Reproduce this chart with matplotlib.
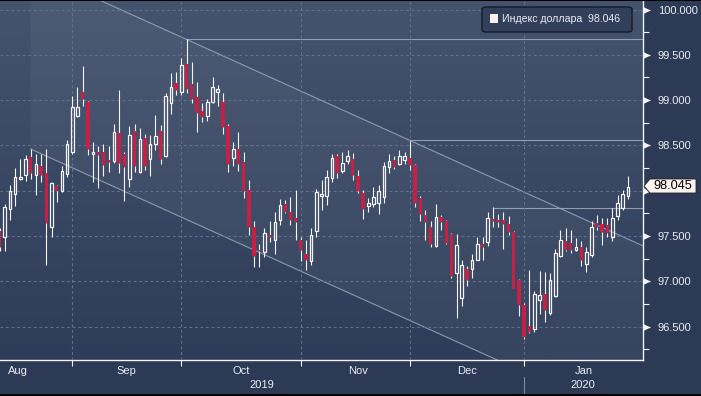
import numpy as np
import pandas as pd
import matplotlib.pyplot as plt
from matplotlib.colors import LinearSegmentedColormap
from matplotlib.patches import FancyBboxPatch, Rectangle, Polygon

plt.rcParams['font.family'] = ['Liberation Sans', 'DejaVu Sans']

# daily OHLC, US dollar index, from 2019-08-12 (business days)
opens = [97.55, 97.49, 97.80, 97.96, 98.13, 98.17, 98.37, 98.17, 98.27, 98.19,
         97.60, 98.05, 98.00, 98.18, 98.43, 98.83, 99.09, 98.98, 98.41, 98.43,
         98.43, 98.34, 98.33, 98.64, 98.41, 98.13, 98.66, 98.21, 98.58, 98.35,
         98.52, 98.66, 98.38, 98.97, 99.19, 99.09, 99.40, 99.18, 99.03, 98.88,
         98.82, 98.98, 99.09, 98.98, 98.71, 98.36, 98.46, 98.32, 98.01, 97.60,
         97.35, 97.32, 97.51, 97.46, 97.68, 97.85, 97.76, 97.70, 97.46, 97.30,
         97.22, 97.55, 97.94, 97.94, 98.14, 98.38, 98.22, 98.33, 98.35, 98.16,
         97.98, 97.83, 97.85, 97.86, 97.93, 98.26, 98.34, 98.30, 98.34, 98.36,
         98.28, 97.92, 97.73, 97.60, 97.39, 97.71, 97.66, 97.52, 97.09, 96.81,
         97.14, 97.14, 97.24, 97.41, 97.43, 97.69, 97.68, 97.68, 97.63, 97.54,
         97.01, 96.74, 96.51, 96.47, 96.79, 96.86, 96.65, 96.84, 97.28, 97.45,
         97.42, 97.35, 97.38, 97.19, 97.29, 97.64, 97.63, 97.62, 97.49, 97.72,
         97.81, 97.94]
highs = [97.59, 97.85, 98.06, 98.25, 98.35, 98.39, 98.46, 98.41, 98.40, 98.46,
         98.10, 98.06, 98.27, 98.56, 99.04, 99.14, 99.38, 98.99, 98.54, 98.49,
         98.52, 98.49, 98.74, 99.11, 98.43, 98.71, 98.74, 98.69, 98.63, 98.62,
         98.84, 98.73, 99.08, 99.30, 99.31, 99.46, 99.67, 99.42, 99.20, 98.97,
         99.01, 99.26, 99.17, 99.08, 98.74, 98.54, 98.65, 98.43, 98.12, 97.66,
         97.41, 97.59, 97.66, 97.77, 97.91, 97.90, 97.93, 98.01, 97.49, 97.46,
         97.59, 98.02, 98.12, 98.23, 98.41, 98.41, 98.43, 98.45, 98.42, 98.23,
         98.01, 97.92, 98.04, 98.06, 98.32, 98.41, 98.38, 98.45, 98.43, 98.55,
         98.29, 97.94, 97.79, 97.67, 97.85, 97.73, 97.68, 97.53, 97.52, 97.24,
         97.17, 97.30, 97.49, 97.49, 97.77, 97.82, 97.74, 97.76, 97.72, 97.55,
         97.02, 96.76, 97.12, 96.89, 97.11, 97.10, 97.09, 97.36, 97.57, 97.59,
         97.57, 97.48, 97.45, 97.38, 97.67, 97.73, 97.70, 97.70, 97.81, 97.95,
         98.01, 98.16]
lows = [97.33, 97.33, 97.68, 97.83, 98.12, 98.11, 98.13, 97.95, 98.10, 97.18,
        97.49, 97.87, 97.99, 98.15, 98.41, 98.81, 98.93, 98.39, 98.10, 98.03,
        98.16, 98.21, 98.31, 98.20, 97.89, 98.04, 98.21, 98.19, 98.23, 98.16,
        98.45, 98.30, 98.37, 98.85, 99.06, 99.06, 99.08, 98.97, 98.65, 98.76,
        98.77, 98.97, 98.93, 98.63, 98.21, 98.27, 98.22, 97.92, 97.51, 97.16,
        97.16, 97.27, 97.43, 97.30, 97.62, 97.75, 97.62, 97.46, 97.22, 97.13,
        97.18, 97.49, 97.79, 97.84, 98.10, 98.14, 98.19, 98.30, 98.12, 97.98,
        97.69, 97.76, 97.82, 97.74, 97.86, 98.19, 98.24, 98.28, 98.30, 98.23,
        97.82, 97.66, 97.46, 97.38, 97.38, 97.57, 97.41, 97.04, 96.60, 96.73,
        96.95, 97.04, 97.23, 97.24, 97.39, 97.60, 97.60, 97.36, 97.51, 96.91,
        96.62, 96.36, 96.43, 96.44, 96.64, 96.55, 96.63, 96.83, 97.27, 97.33,
        97.31, 97.33, 97.17, 97.10, 97.27, 97.57, 97.40, 97.49, 97.44, 97.68,
        97.79, 97.91]
closes = [97.38, 97.82, 98.00, 98.15, 98.15, 98.35, 98.19, 98.30, 98.17, 97.64,
          98.08, 98.00, 98.22, 98.51, 98.92, 98.92, 99.01, 98.46, 98.43, 98.39,
          98.28, 98.32, 98.65, 98.31, 98.26, 98.62, 98.27, 98.57, 98.27, 98.52,
          98.60, 98.35, 99.05, 99.14, 99.11, 99.39, 99.12, 99.01, 98.86, 98.81,
          98.98, 99.14, 99.12, 98.70, 98.30, 98.46, 98.30, 98.00, 97.60, 97.28,
          97.33, 97.53, 97.49, 97.65, 97.84, 97.77, 97.68, 97.65, 97.35, 97.24,
          97.51, 97.99, 97.96, 98.15, 98.36, 98.20, 98.31, 98.38, 98.17, 98.00,
          97.80, 97.86, 97.93, 98.00, 98.27, 98.33, 98.26, 98.38, 98.38, 98.28,
          97.86, 97.74, 97.65, 97.41, 97.71, 97.65, 97.42, 97.06, 97.40, 97.18,
          97.01, 97.23, 97.41, 97.38, 97.70, 97.66, 97.65, 97.63, 97.54, 96.92,
          96.74, 96.39, 96.44, 96.86, 96.85, 96.68, 97.01, 97.31, 97.46, 97.35,
          97.35, 97.38, 97.23, 97.32, 97.60, 97.60, 97.54, 97.53, 97.70, 97.86,
          97.96, 98.046]

start_date = "2019-08-12"
legend_label = "Индекс доллара"
last_label = "98.045"

# channel: upper line through two highs, lower line parallel through a third point
upper_pts = [(36, 99.67), (79, 98.555)]
lower_pt = (6, 98.46)
# horizontal levels drawn from a candle to the right edge
levels = [(36, 99.67), (79, 98.555), (95, 97.813)]

BG_TOP = "#44536e"
BG_BOT = "#2e3c59"
FIG_BG = "#2c3a56"
RED = "#c62144"
WHITE = "#f4f4f4"
TXT = "#e9edf3"
GRID = "#62718b"

W, H = 701, 396
fig = plt.figure(figsize=(W / 100, H / 100), dpi=100, facecolor=FIG_BG)
ax_l, ax_r, ax_t, ax_b = 0, 642.5, 1, 360
ax = fig.add_axes([ax_l / W, 1 - ax_b / H, (ax_r - ax_l) / W, (ax_b - ax_t) / H])

n = len(closes)
x = np.arange(n)
o, h, l, c = map(np.array, (opens, highs, lows, closes))
up = c >= o

xmin, xmax = 0.08, 123.8
ymin, ymax = 96.131, 100.094
ax.set_xlim(xmin, xmax)
ax.set_ylim(ymin, ymax)

# background gradient
cmap = LinearSegmentedColormap.from_list("bg", [BG_BOT, BG_TOP])
grad = np.linspace(0, 1, 256).reshape(-1, 1)
ax.imshow(grad, extent=[xmin, xmax, ymin, ymax], origin="lower", aspect="auto",
          cmap=cmap, zorder=0)

# channel
slope = (upper_pts[1][1] - upper_pts[0][1]) / (upper_pts[1][0] - upper_pts[0][0])
xs = np.array([lower_pt[0], xmax])
upper = upper_pts[0][1] + slope * (xs - upper_pts[0][0])
lower = lower_pt[1] + slope * (xs - lower_pt[0])
ax.fill_between(xs, lower, upper, color="white", alpha=0.045, lw=0, zorder=1)
ax.plot(xs, upper, color="#a3adbf", lw=0.8, alpha=0.8, zorder=2)
ax.plot(xs, lower, color="#a3adbf", lw=0.8, alpha=0.8, zorder=2)
for k, v in levels:
    ax.plot([k, xmax], [v, v], color="#a3adbf", lw=0.8, alpha=0.85, zorder=2)

# candles
body_lo = np.minimum(o, c)
body_hi = np.maximum(o, c)
ax.vlines(x, body_hi, h, color=WHITE, lw=0.8, zorder=3)
ax.vlines(x, l, body_lo, color=WHITE, lw=0.8, zorder=3)
height = np.maximum(body_hi - body_lo, 0.012)
ax.bar(x[up], height[up], bottom=body_lo[up], width=0.5, facecolor="none",
       edgecolor=WHITE, lw=0.9, zorder=4)
ax.bar(x[~up], height[~up], bottom=body_lo[~up], width=0.64, color=RED,
       lw=0, zorder=4)

# dates, month ticks and labels
dates = pd.bdate_range(start_date, periods=n)
month_ends = [i for i in range(n - 1) if dates[i].month != dates[i + 1].month]
centers, names = [], []
for p in pd.period_range(dates[0], dates[-1], freq="M"):
    first = np.busday_count(start_date, p.start_time.date())
    last = np.busday_count(start_date, p.end_time.date()) - 1
    centers.append((first + last) / 2)
    names.append(p.strftime("%b"))

ax.set_xticks(month_ends)
ax.set_xticklabels([])
ax.set_xticks(centers, minor=True)
ax.set_xticklabels(names, minor=True)
ax.tick_params(axis="x", which="major", length=4, width=0.8, color=WHITE, direction="out")
ax.tick_params(axis="x", which="minor", length=0, pad=4, labelsize=8, labelcolor=TXT)

# year labels
sep = month_ends[-1]
trans = ax.get_xaxis_transform()
ax.text((xmin + sep) / 2, -0.071, str(dates[0].year), transform=trans,
        ha="center", va="center", fontsize=8, color=TXT)
ax.text((sep + xmax) / 2, -0.071, str(dates[-1].year), transform=trans,
        ha="center", va="center", fontsize=8, color=TXT)
ax.plot([sep, sep], [-0.047, -0.11], transform=trans, color="#7d8aa0", lw=0.8,
        clip_on=False)

# y axis on the right; the label under the price tag is hidden by it
yticks = np.arange(96.5, 100.01, 0.5)
ax.yaxis.tick_right()
ax.set_yticks(yticks)
ax.set_yticklabels(["" if abs(v - closes[-1]) < 0.12 else f"{v:.3f}" for v in yticks])
ax.set_yticks(np.arange(96.25, 100.0, 0.5), minor=True)
ax.tick_params(axis="y", which="major", length=5, width=0.9, color=WHITE,
               pad=6, labelsize=8, labelcolor=TXT)
ax.tick_params(axis="y", which="minor", length=4, width=0.8, color=WHITE)
ax.plot(np.full(len(yticks), 1.006), yticks, ls="none", marker=">", ms=3.5,
        color=WHITE, transform=ax.get_yaxis_transform(), clip_on=False)

ax.grid(True, which="major", color=GRID, ls=(0, (2.5, 2.5)), lw=0.8)
ax.set_axisbelow(False)
for sp in ("top", "left"):
    ax.spines[sp].set_visible(False)
for sp in ("right", "bottom"):
    ax.spines[sp].set_color(WHITE)
    ax.spines[sp].set_linewidth(1.0)
for gl in ax.get_xgridlines() + ax.get_ygridlines():
    gl.set_zorder(1.5)

# legend box
def px(xp, yp):
    return xp / W, 1 - yp / H

lx, ly = px(482, 32)
fig.add_artist(FancyBboxPatch((lx, ly), 150 / W, 25 / H, transform=fig.transFigure,
                              boxstyle="round,pad=0,rounding_size=0.006",
                              fc="#313f5b", ec="#151b28", lw=1.0))
sx, sy = px(490, 22.5)
fig.add_artist(Rectangle((sx, sy), 8 / W, 8 / H, transform=fig.transFigure,
                         fc="#fdf0ec", ec="none"))
tx, ty = px(502, 19.5)
fig.text(tx, ty, f"{legend_label}  {closes[-1]:.3f}", color=TXT, fontsize=7.6,
         ha="left", va="center")

# last price tag
tag = [px(644, 186), px(650, 179), px(696, 179), px(696, 193), px(650, 193)]
fig.add_artist(Polygon(tag, closed=True, transform=fig.transFigure,
                       fc="#fdf3ef", ec="#222222", lw=0.6))
gx, gy = px(673, 186)
fig.text(gx, gy, last_label, color="black", fontsize=9.2, ha="center", va="center")

# black edges top and bottom
fig.add_artist(Rectangle((0, 1 - 1 / H), 1, 1 / H, transform=fig.transFigure,
                         fc="black", ec="none"))
fig.add_artist(Rectangle((0, 0), 1, 2 / H, transform=fig.transFigure,
                         fc="black", ec="none"))

fig.savefig("out.png", dpi=100, facecolor=FIG_BG)
